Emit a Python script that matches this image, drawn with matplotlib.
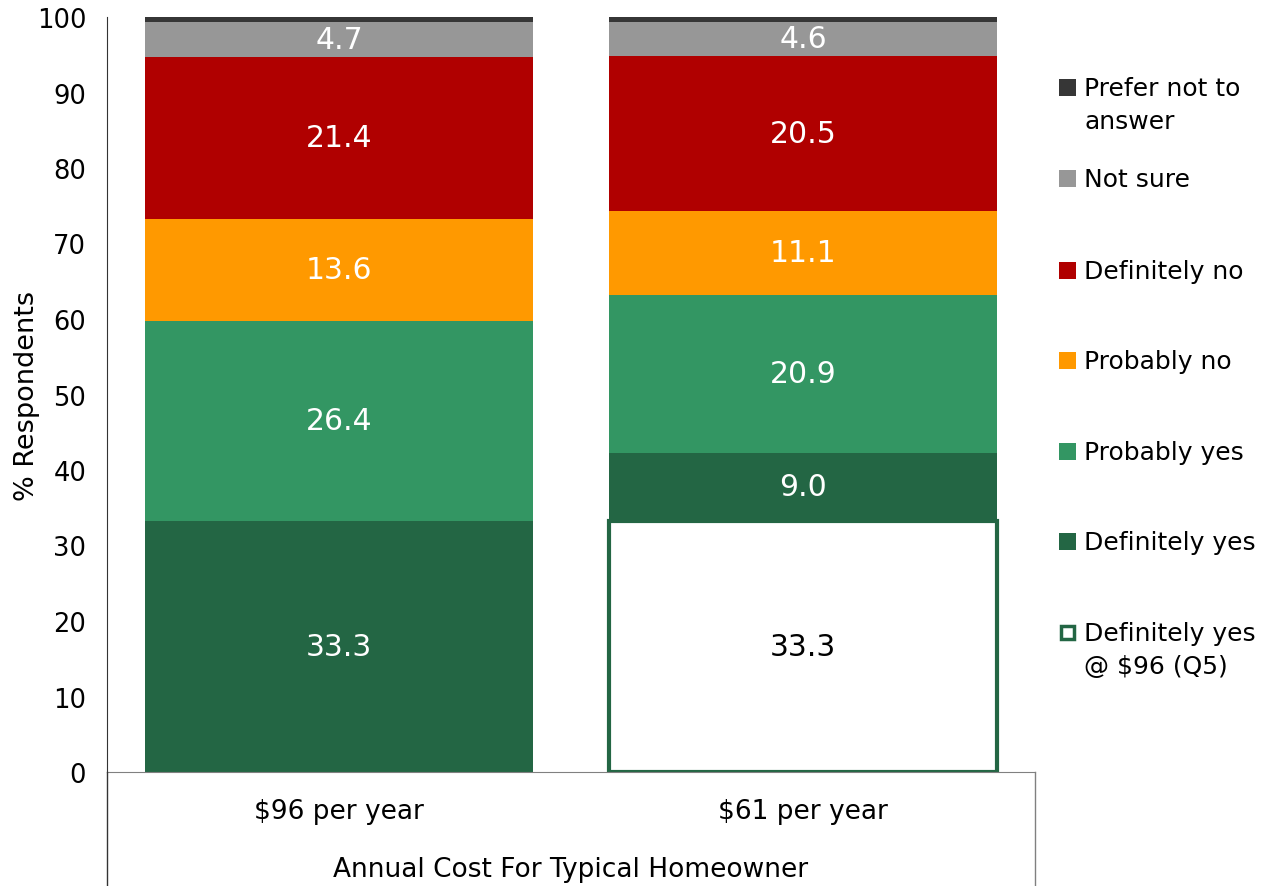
import matplotlib.pyplot as plt
from matplotlib.lines import Line2D
from matplotlib.patches import Rectangle
import numpy as np

plt.rcParams['font.family'] = ['DejaVu Sans']

categories = ['$96 per year', '$61 per year']

# stack order, bottom to top
series_names = ['Definitely yes\n@ $96 (Q5)', 'Definitely yes', 'Probably yes',
                'Probably no', 'Definitely no', 'Not sure', 'Prefer not to\nanswer']
def_yes_q5 = [0.0, 33.3]
def_yes = [33.3, 9.0]
prob_yes = [26.4, 20.9]
prob_no = [13.6, 11.1]
def_no = [21.4, 20.5]
not_sure = [4.7, 4.6]
prefer_not = [0.6, 0.6]

series_values = [def_yes_q5, def_yes, prob_yes, prob_no, def_no, not_sure, prefer_not]
colors = ['white', '#236644', '#339663', '#FF9900', '#B00000', '#979797', '#363636']
green_edge = '#236644'

fig = plt.figure(figsize=(12.7, 8.87), dpi=100)
ax = fig.add_axes([107 / 1270, 114 / 887, 928 / 1270, 755 / 887])

x = np.arange(len(categories))
bottom = np.zeros(len(categories))
for name, vals, col in zip(series_names, series_values, colors):
    vals = np.array(vals)
    if col == 'white':
        bars = ax.bar(x, vals, width=0.836, bottom=bottom, color='white',
                      edgecolor=[green_edge if v > 0 else 'none' for v in vals], linewidth=3)
    else:
        bars = ax.bar(x, vals, width=0.836, bottom=bottom, color=col, linewidth=0)
    if name != 'Prefer not to\nanswer':
        for b, v, bt in zip(bars, vals, bottom):
            if v <= 0:
                continue
            tc = 'black' if col == 'white' else 'white'
            ax.text(b.get_x() + b.get_width() / 2, bt + v / 2, f'{v:.1f}',
                    ha='center', va='center', fontsize=21.5, color=tc)
    bottom += vals

ax.set_xlim(-0.5, 1.5)
ax.set_ylim(0, 100)
ax.set_yticks(range(0, 101, 10))
ax.tick_params(axis='y', length=0, pad=15, labelsize=18.5)
ax.set_xticks([])
ax.set_ylabel('% Respondents', fontsize=19.5)
ax.yaxis.set_label_coords(-0.072, 0.5)

for s in ['top', 'right']:
    ax.spines[s].set_visible(False)
ax.spines['left'].set_color('#333333')
ax.spines['bottom'].set_color('#808080')

# category box below the axis
x0, x1 = 107 / 1270, 1035 / 1270
y0 = 114 / 887
fig.add_artist(Line2D([x0, x0], [0, y0], color='#333333', lw=1))
fig.add_artist(Line2D([x1, x1], [0, y0], color='#808080', lw=1))
for xi, cat in zip(x, categories):
    ax.text(xi, -0.052, cat, transform=ax.get_xaxis_transform(),
            ha='center', va='center', fontsize=19)
ax.text(0.5, -0.128, 'Annual Cost For Typical Homeowner', transform=ax.transAxes,
        ha='center', va='center', fontsize=19)

# legend, top entry first
leg_y = [88, 179, 271, 361, 452, 542, 633]
for yy, name, col in zip(leg_y, series_names[::-1], colors[::-1]):
    fy = 1 - yy / 887
    if col == 'white':
        fig.add_artist(Rectangle((1061 / 1270, fy - 6.5 / 887), 13 / 1270, 13 / 887,
                                 facecolor='white', edgecolor=green_edge, lw=2.5))
    else:
        fig.add_artist(Rectangle((1059 / 1270, fy - 8.5 / 887), 17 / 1270, 17 / 887,
                                 facecolor=col, edgecolor='none'))
    fig.text(1084 / 1270, fy + 11 / 887, name, ha='left', va='top', fontsize=18,
             linespacing=1.45)

fig.savefig('out.png', dpi=100)
